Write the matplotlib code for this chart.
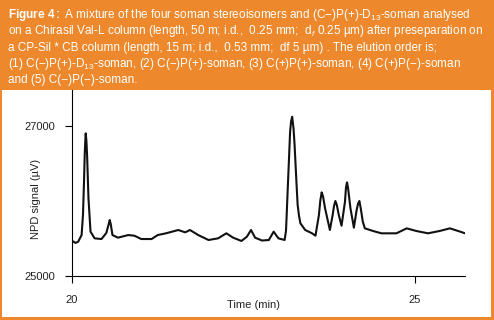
import matplotlib.pyplot as plt
from matplotlib.patches import Rectangle

plt.rcParams['font.family'] = 'Liberation Sans'
plt.rcParams['mathtext.fontset'] = 'custom'
plt.rcParams['mathtext.rm'] = 'Liberation Sans'
plt.rcParams['mathtext.bf'] = 'Liberation Sans:bold'
plt.rcParams['mathtext.it'] = 'Liberation Sans:italic'

# chromatogram: retention time (min) and NPD signal (uV)
time_min = [20.00, 20.05, 20.09, 20.14, 20.16, 20.175, 20.185, 20.195, 20.20, 20.21,
            20.22, 20.24, 20.27, 20.33, 20.43, 20.50, 20.535, 20.55, 20.565, 20.59,
            20.67, 20.82, 20.91, 21.01, 21.16, 21.25, 21.37, 21.55, 21.65, 21.72,
            21.84, 21.99, 22.13, 22.25, 22.35, 22.47, 22.55, 22.61, 22.67, 22.77,
            22.87, 22.94, 23.01, 23.10, 23.12, 23.13, 23.145, 23.16, 23.18, 23.195,
            23.21, 23.23, 23.245, 23.26, 23.275, 23.29, 23.31, 23.33, 23.40, 23.50,
            23.55, 23.60, 23.62, 23.64, 23.66, 23.69, 23.76, 23.80, 23.82, 23.84,
            23.86, 23.89, 23.93, 23.98, 23.995, 24.01, 24.025, 24.06, 24.11, 24.15,
            24.17, 24.19, 24.21, 24.24, 24.27, 24.39, 24.51, 24.64, 24.73, 24.88,
            25.02, 25.19, 25.36, 25.51, 25.66, 25.73]
signal_uv = [25470, 25440, 25456, 25545, 25811, 26250, 26609, 26820, 26898, 26800,
             26609, 26037, 25590, 25501, 25492, 25572, 25690, 25745, 25690, 25545,
             25510, 25545, 25536, 25492, 25492, 25545, 25568, 25612, 25581, 25612,
             25545, 25479, 25501, 25568, 25510, 25466, 25523, 25612, 25510, 25472,
             25479, 25590, 25501, 25479, 25600, 25811, 26150, 26476, 26920, 27060,
             27119, 26964, 26750, 26476, 26200, 25944, 25800, 25701, 25612, 25568,
             25536, 25811, 26000, 26113, 26060, 25900, 25612, 25811, 25930, 25998,
             25950, 25811, 25669, 25988, 26180, 26246, 26170, 25900, 25643, 25878,
             25960, 25998, 25900, 25722, 25634, 25599, 25568, 25568, 25568, 25634,
             25599, 25568, 25599, 25634, 25590, 25568]

x_ticks = [20, 25]
y_ticks = [25000, 27000]

caption = [
    r'$\mathbf{Figure\ 4{:}}$ A mixture of the four soman stereoisomers and (C−)P(+)-D$_{13}$-soman analysed',
    r'on a Chirasil Val-L column (length, 50 m; i.d.,  0.25 mm;  d$_{f}$ 0.25 µm) after preseparation on',
    r'a CP-Sil * CB column (length, 15 m; i.d.,  0.53 mm;  df 5 µm) . The elution order is;',
    r'(1) C(−)P(+)-D$_{13}$-soman, (2) C(−)P(+)-soman, (3) C(+)P(+)-soman, (4) C(+)P(−)-soman',
    r'and (5) C(−)P(−)-soman.',
]

orange = '#ED892C'
fig = plt.figure(figsize=(4.94, 3.20), dpi=100, facecolor=orange)

# white panel under the caption
fig.patches.append(Rectangle((2 / 494, 3 / 320), 489 / 494, 227 / 320,
                             transform=fig.transFigure, facecolor='white',
                             edgecolor='none', zorder=-10))

# caption lines
for i, line in enumerate(caption):
    fig.text(8 / 494, 1 - (15 + i * 16.3) / 320, line, color='white',
             fontsize=8.5, ha='left', va='center')

ax = fig.add_axes([72 / 494, 1 - 276 / 320, 393 / 494, 186 / 320])
ax.set_facecolor('none')
ax.plot(time_min, signal_uv, color='#111111', linewidth=1.5)

ax.set_xlim(20, 25.73)
ax.set_ylim(25000, 27475)
ax.set_xticks(x_ticks)
ax.set_xticklabels([str(v) for v in x_ticks])
ax.set_yticks(y_ticks)
ax.set_yticklabels([str(v) for v in y_ticks])
ax.tick_params(axis='both', direction='out', length=5, width=0.8,
               labelsize=8, colors='black', labelcolor='#222222')
ax.tick_params(axis='x', pad=9)
ax.tick_params(axis='y', pad=7)

for side in ['top', 'right']:
    ax.spines[side].set_visible(False)
for side in ['left', 'bottom']:
    ax.spines[side].set_linewidth(0.8)

ax.text((253 - 72) / 393, (276 - 305) / 186, 'Time (min)', transform=ax.transAxes,
        ha='center', va='center', fontsize=8, color='#222222')
ax.text((36 - 72) / 393, (276 - 199) / 186, 'NPD signal (µV)', transform=ax.transAxes,
        ha='center', va='center', rotation=90, fontsize=8, color='#222222')

fig.savefig('out.png', dpi=100, facecolor=orange)
